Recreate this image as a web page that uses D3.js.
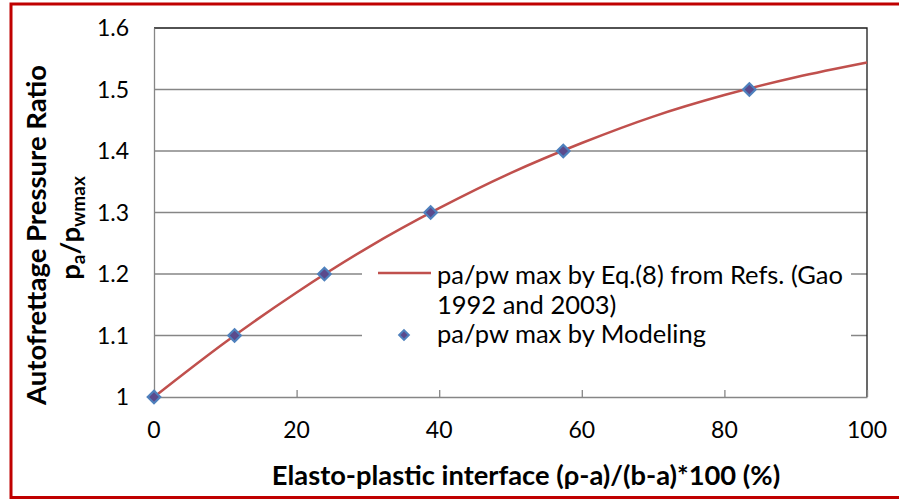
<!DOCTYPE html>
<html>
<head>
<meta charset="utf-8">
<script src="https://cdn.jsdelivr.net/npm/d3@7"></script>
<style>
    body { margin: 0; background: #fff; }
    svg { display: block; font-family: Lato, "Open Sans", sans-serif; }
</style>
</head>
<body>
<div id="chart"></div>
<script>
// Curve (Eq.(8) line)
const eqX = [0, 10, 20, 30, 40, 50, 60, 70, 80, 90, 100];
const eqY = [1.000, 1.089, 1.170, 1.243, 1.307, 1.364, 1.413, 1.456, 1.491, 1.520, 1.544];

// Modeling points
const modX = [0, 11.3, 23.9, 38.8, 57.4, 83.5];
const modY = [1.0, 1.1, 1.2, 1.3, 1.4, 1.5];

const xTicks = [0, 20, 40, 60, 80, 100];
const yTicks = [1, 1.1, 1.2, 1.3, 1.4, 1.5, 1.6];

const legendLabels = ['pa/pw max by Eq.(8) from Refs. (Gao', '1992 and 2003)', 'pa/pw max by Modeling'];

const width = 899, height = 501;
const plotLeft = 154, plotRight = 867, plotTop = 28, plotBottom = 397;

const svg = d3.select('#chart').append('svg')
    .attr('width', width)
    .attr('height', height);

// Outer red frame
svg.append('rect')
    .attr('x', 11).attr('y', 4)
    .attr('width', 900).attr('height', 493.5)
    .attr('fill', 'none')
    .attr('stroke', '#c00000')
    .attr('stroke-width', 3);

const x = d3.scaleLinear().domain([0, 100]).range([plotLeft, plotRight]);
const y = d3.scaleLinear().domain([1, 1.6]).range([plotBottom, plotTop]);

const grey = '#868686';

// Horizontal gridlines
svg.append('g')
    .selectAll('line')
    .data(yTicks.slice(1, -1))
    .enter().append('line')
    .attr('x1', plotLeft).attr('x2', plotRight)
    .attr('y1', d => y(d)).attr('y2', d => y(d))
    .attr('stroke', grey)
    .attr('stroke-width', 1.3);

// Top and right borders of the plot area
svg.append('path')
    .attr('d', `M${plotLeft},${plotTop}H${plotRight}V${plotBottom}`)
    .attr('fill', 'none')
    .attr('stroke', '#1a1a1a')
    .attr('stroke-width', 1.3);

// X axis with inward ticks
const xAxis = svg.append('g')
    .attr('transform', `translate(0,${plotBottom})`)
    .call(d3.axisBottom(x).tickValues(xTicks).tickSizeInner(-7).tickSizeOuter(0).tickPadding(0).tickFormat(''));
xAxis.selectAll('line, path').attr('stroke', grey).attr('stroke-width', 1.3);

// Y axis line
const yAxis = svg.append('g')
    .attr('transform', `translate(${plotLeft},0)`)
    .call(d3.axisLeft(y).tickValues(yTicks).tickSize(0).tickFormat(''));
yAxis.selectAll('path').attr('stroke', grey).attr('stroke-width', 1.3);

// Tick labels
svg.append('g')
    .selectAll('text')
    .data(xTicks)
    .enter().append('text')
    .attr('x', d => x(d))
    .attr('y', 438)
    .attr('text-anchor', 'middle')
    .attr('font-size', 23)
    .text(d => d);

svg.append('g')
    .selectAll('text')
    .data(yTicks)
    .enter().append('text')
    .attr('x', 129)
    .attr('y', d => y(d) + 8)
    .attr('text-anchor', 'end')
    .attr('font-size', 23)
    .text(d => d);

// Eq.(8) curve
const line = d3.line()
    .x(d => x(d[0]))
    .y(d => y(d[1]))
    .curve(d3.curveMonotoneX);

svg.append('path')
    .datum(eqX.map((v, i) => [v, eqY[i]]))
    .attr('d', line)
    .attr('fill', 'none')
    .attr('stroke', '#c0504d')
    .attr('stroke-width', 2.5);

// Modeling markers
const diamond = d3.symbol().type(d3.symbolDiamond2).size(100);
svg.append('g')
    .selectAll('path')
    .data(modX.map((v, i) => [v, modY[i]]))
    .enter().append('path')
    .attr('d', diamond)
    .attr('transform', d => `translate(${x(d[0])},${y(d[1])})`)
    .attr('fill', '#5b4a8c')
    .attr('stroke', '#4f81bd')
    .attr('stroke-width', 2.2);

// Legend (white box over the gridlines)
const legend = svg.append('g');
legend.append('rect')
    .attr('x', 362).attr('y', 256)
    .attr('width', 489).attr('height', 98)
    .attr('fill', '#fff');

legend.append('line')
    .attr('x1', 378).attr('x2', 431)
    .attr('y1', 273).attr('y2', 273)
    .attr('stroke', '#c0504d')
    .attr('stroke-width', 2.5);

legend.append('path')
    .attr('d', d3.symbol().type(d3.symbolDiamond2).size(60))
    .attr('transform', 'translate(404,335)')
    .attr('fill', '#5b4a8c')
    .attr('stroke', '#4f81bd')
    .attr('stroke-width', 2);

legend.selectAll('text')
    .data(legendLabels)
    .enter().append('text')
    .attr('x', 437)
    .attr('y', (d, i) => [284, 314, 343][i])
    .attr('font-size', 25.5)
    .text(d => d);

// Axis titles
svg.append('text')
    .attr('x', 526)
    .attr('y', 485)
    .attr('text-anchor', 'middle')
    .attr('font-size', 27.3)
    .attr('font-weight', 'bold')
    .text('Elasto-plastic interface (ρ-a)/(b-a)*100 (%)');

svg.append('text')
    .attr('transform', 'translate(46,235) rotate(-90)')
    .attr('text-anchor', 'middle')
    .attr('font-size', 27.5)
    .attr('font-weight', 'bold')
    .text('Autofrettage Pressure Ratio');

const yTitle2 = svg.append('text')
    .attr('transform', 'translate(80,228) rotate(-90)')
    .attr('text-anchor', 'middle')
    .attr('font-size', 27.5)
    .attr('font-weight', 'bold');
yTitle2.append('tspan').text('p');
yTitle2.append('tspan').attr('font-size', 19).attr('dy', 5).text('a');
yTitle2.append('tspan').attr('dy', -5).text('/p');
yTitle2.append('tspan').attr('font-size', 19).attr('dy', 5).text('wmax');
</script>
</body>
</html>
